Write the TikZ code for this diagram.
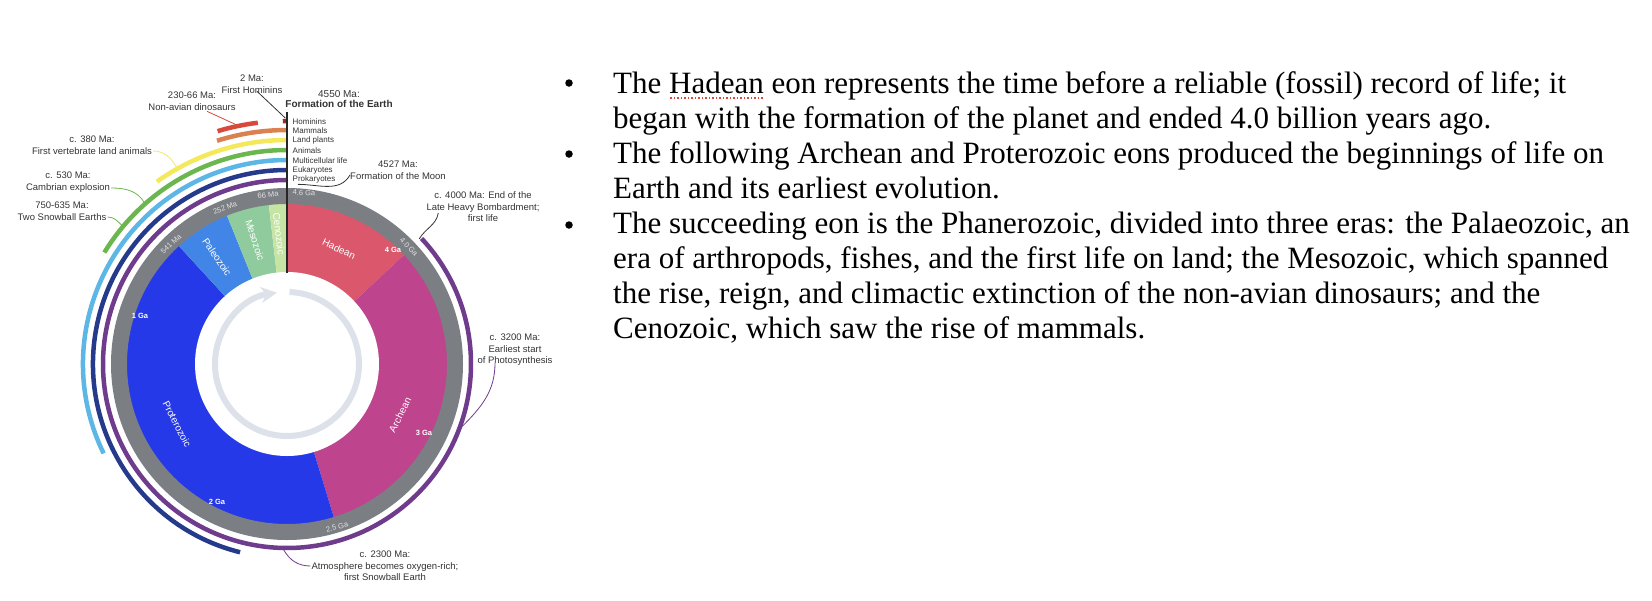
\documentclass[tikz,border=0pt]{standalone}
\usepackage{fontspec}
\setmainfont{Liberation Serif}
\setsansfont{Liberation Sans}
\usepackage{tikz}
\usetikzlibrary{arrows.meta,positioning,calc}
\definecolor{cphadean}{HTML}{DA576C}
\definecolor{cparchean}{HTML}{BE448D}
\definecolor{cpprotero}{HTML}{2539E8}
\definecolor{cppaleo}{HTML}{4186E6}
\definecolor{cpmeso}{HTML}{8FCB9D}
\definecolor{cpceno}{HTML}{C6E4A3}
\definecolor{cpring}{HTML}{7B7F84}
\definecolor{cpdial}{HTML}{DDE1EA}
\definecolor{cpprok}{HTML}{6E3B8D}
\definecolor{cpeuk}{HTML}{253A8B}
\definecolor{cpmulti}{HTML}{5CB6E6}
\definecolor{cpanimal}{HTML}{6BB64F}
\definecolor{cpplant}{HTML}{F4E95C}
\definecolor{cpmammal}{HTML}{DA814F}
\definecolor{cpdino}{HTML}{D8483B}
\definecolor{cphominin}{HTML}{9C2B22}
\definecolor{cpnote}{HTML}{333333}
\definecolor{cpspell}{HTML}{E0453A}
\newsavebox{\spellbox}
\newcommand{\spellmark}[1]{\sbox{\spellbox}{#1}\rlap{\color{cpspell}\raisebox{-6pt}{\hbox to \wd\spellbox{\xleaders\hbox to 3.4pt{\hss\rule{1.8pt}{1.8pt}\hss}\hfill}}}\usebox{\spellbox}}

\begin{document}
\begin{tikzpicture}[x=1pt, y=-1pt,
  note/.style={font=\sffamily\fontsize{9.5}{11.5}\selectfont, text=cpnote, align=center, inner sep=1pt},
  legendtxt/.style={font=\sffamily\fontsize{8}{9}\selectfont, text=cpnote, anchor=west, inner sep=0.5pt},
  eonlbl/.style={font=\sffamily\fontsize{10}{12}\selectfont, text=white, inner sep=0pt},
  ringlbl/.style={font=\sffamily\fontsize{7.5}{9}\selectfont, text=white!88!black, inner sep=0pt},
  galbl/.style={font=\sffamily\bfseries\fontsize{7.5}{9}\selectfont, text=white, inner sep=0pt},
  lead/.style={line width=0.8pt},
  bodytext/.style={font=\rmfamily\fontsize{31}{35}\selectfont, align=left, inner sep=0pt, anchor=north west},
  bulletdot/.style={circle, fill=black, inner sep=0pt, minimum size=7.5pt}]
  \useasboundingbox (0,0) rectangle (1652,600);
  \coordinate (c) at (287,364);
  \begin{scope}[shift={(c)}, yscale=-1]
    % eons and eras, 4.6 Ga at the top, running clockwise
    \foreach \from/\to/\col in {90/43/cphadean, 43/-73/cparchean, -73/-227.5/cpprotero, 132.5/112/cppaleo, 112/96.5/cpmeso, 96.5/90/cpceno}
      \fill[\col] (0,0) -- (\from:160.5) arc[start angle=\from, end angle=\to, radius=160.5] -- cycle;
    \fill[white] (0,0) circle (92);
    \draw[cpring, line width=16pt] (0,0) circle (168);
    \draw[cpdial, line width=6pt, -{Stealth[length=16pt, width=16pt]}] (88:72) arc[start angle=88, end angle=-262, radius=72];
    % ranges of life
    \foreach \from/\to/\r/\col in {43/-270/184/cpprok, -104/-270/194/cpeuk, 206/90/204/cpmulti, 148.6/90/214/cpanimal, 125.5/90/224/cpplant, 107.4/90/234/cpmammal, 106.6/96.9/243/cpdino, 91/90/243/cphominin}
      \draw[\col, line width=4.5pt] (\from:\r) arc[start angle=\from, end angle=\to, radius=\r];
    \coordinate (hompt) at (90.4:246);
    \coordinate (dinopt) at (101.8:244);
    \coordinate (plantpt) at (119.3:225);
    \coordinate (cambpt) at (131.5:215);
    \coordinate (snowpt) at (140:215);
    \coordinate (moonpt) at (86.5:180);
    \coordinate (lhbpt) at (43.4:182);
    \coordinate (photopt) at (-19.6:186);
    \coordinate (oxpt) at (-91:186);
    \coordinate (axisin) at (90:91);
  \end{scope}
  \coordinate (axisout) at (287,112);
  \draw[black!85, line width=1.3pt] (axisin) -- (axisout);

  % labels on the dial
  \node[eonlbl, rotate=-25] (hadean) at (339,249) {Hadean};
  \node[eonlbl, rotate=63] (archean) at (400,415) {Archean};
  \node[eonlbl, rotate=-63] (proterozoic) at (177,424) {Proterozoic};
  \node[eonlbl, rotate=-56] (paleozoic) at (217,257) {Paleozoic};
  \node[eonlbl, rotate=-72] (mesozoic) at (255,240) {Mesozoic};
  \node[eonlbl, rotate=-83] (cenozoic) at (279,234) {Cenozoic};
  \node[ringlbl, rotate=-3] (ga46) at (304,193) {4.6 Ga};
  \node[ringlbl, rotate=7] (ma66) at (268,195) {66 Ma};
  \node[ringlbl, rotate=21] (ma252) at (225,208) {252 Ma};
  \node[ringlbl, rotate=43] (ma541) at (171,244) {541 Ma};
  \node[ringlbl, rotate=-47] (ga40) at (409,247) {4.0 Ga};
  \node[ringlbl, rotate=15] (ga25) at (337,527) {2.5 Ga};
  \node[galbl] (ga4) at (393,250) {4 Ga};
  \node[galbl] (ga3) at (424,433) {3 Ga};
  \node[galbl] (ga2) at (217,502) {2 Ga};
  \node[galbl] (ga1) at (140,316) {1 Ga};

  % legend along the axis
  \foreach \txt [count=\i] in {Hominins, Mammals, Land plants, Animals, Multicellular life, Eukaryotes, Prokaryotes}
    \node[legendtxt] (leg\i) at (292,111.5+9.75*\i) {\txt};

  % events
  \node[note] (hominid) at (252,84) {2 Ma:\\First Hominins};
  \node[note] (dinos) at (192,101) {230-66 Ma:\\Non-avian dinosaurs};
  \node[note] (landvert) at (92,145) {c. 380 Ma:\\First vertebrate land animals};
  \node[note] (cambrian) at (68,182) {c. 530 Ma:\\Cambrian explosion};
  \node[note] (snowball) at (62,211) {750-635 Ma:\\Two Snowball Earths};
  \node[note, font=\sffamily\fontsize{10}{10.5}\selectfont] (earth) at (339,99) {4550 Ma:\\\textbf{Formation of the Earth}};
  \node[note] (moon) at (398,170) {4527 Ma:\\Formation of the Moon};
  \node[note] (lhb) at (483,207) {c. 4000 Ma: End of the\\Late Heavy Bombardment;\\first life};
  \node[note] (photo) at (515,350) {c. 3200 Ma:\\Earliest start\\of Photosynthesis};
  \node[note] (oxygen) at (385,566) {c. 2300 Ma:\\Atmosphere becomes oxygen-rich;\\first Snowball Earth};

  \draw[cpnote, lead] ($(hominid.south)+(5,-3)$) -- (hompt);
  \draw[cpdino, lead] ($(dinos.south)+(15,0)$) -- (dinopt);
  \draw[cpplant, lead] ($(landvert.east)+(0,6)$) to[out=0, in=120] (plantpt);
  \draw[cpanimal, lead] ($(cambrian.east)+(0,6)$) to[out=0, in=120] (cambpt);
  \draw[cpanimal, lead] ($(snowball.east)+(0,6)$) to[out=0, in=135] (snowpt);
  \draw[cpnote, lead] ($(moon.west)+(1,5)$) to[out=-120, in=0] (moonpt);
  \draw[cpnote, lead] ($(lhb.west)+(13,6)$) to[out=-100, in=60] (lhbpt);
  \draw[cpprok, lead] ($(photo.south)+(-20,-4)$) to[out=-90, in=45] (photopt);
  \draw[cpprok, lead] (oxygen.west) to[out=180, in=-60] (oxpt);

  % the list on the right
  \node[bulletdot] (dot1) at (569,83) {};
  \node[bulletdot] (dot2) at (569,154) {};
  \node[bulletdot] (dot3) at (569,225) {};
  \node[bodytext] (item1) at (613,68.5) {\strut The \spellmark{Hadean} eon represents the time before a reliable (fossil) record of life; it\\began with the formation of the planet and ended 4.0 billion years ago.};
  \node[bodytext] (item2) at (613,138.5) {\strut The following Archean and Proterozoic eons produced the beginnings of life on\\Earth and its earliest evolution.};
  \node[bodytext] (item3) at (613,208.5) {\strut The succeeding eon is the Phanerozoic, divided into three eras: the Palaeozoic, an\\era of arthropods, fishes, and the first life on land; the Mesozoic, which spanned\\the rise, reign, and climactic extinction of the non-avian dinosaurs; and the\\Cenozoic, which saw the rise of mammals.};
\end{tikzpicture}
\end{document}
